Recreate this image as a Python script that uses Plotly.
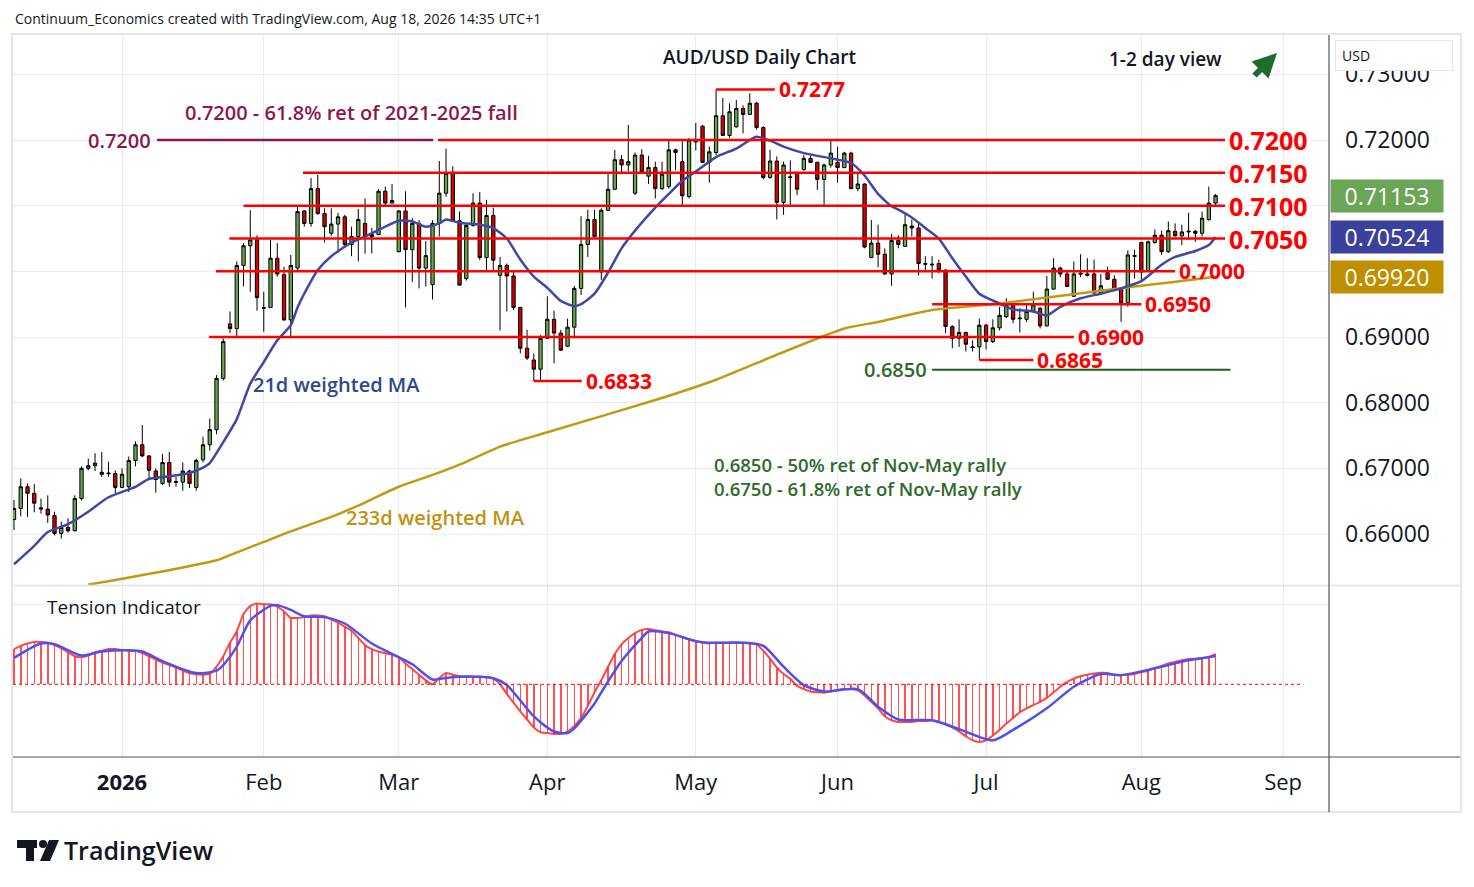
#!python3
# AUD/USD daily chart rebuilt with plotly: candles, weighted MAs,
# key levels and the tension indicator pane underneath

import pandas as pd
import plotly.graph_objects as go

# one bar per weekday, no Christmas / New Year bar
holidays = ["2025-12-25", "2026-01-01"]
all_days = pd.bdate_range("2025-12-09", "2026-09-30")
all_days = all_days[~all_days.isin(pd.to_datetime(holidays))]

opens = [0.6622, 0.6639, 0.6672, 0.6662, 0.6640, 0.6638, 0.6628, 0.6601, 0.6610, 0.6605,
         0.6654, 0.6700, 0.6704, 0.6694, 0.6693, 0.6692, 0.6671, 0.6672, 0.6712, 0.6736,
         0.6719, 0.6696, 0.6677, 0.6709, 0.6680, 0.6679, 0.6696, 0.6671, 0.6713, 0.6736,
         0.6759, 0.6837, 0.6920, 0.6913, 0.7009, 0.7039, 0.7048, 0.6945, 0.6945, 0.7020,
         0.6995, 0.6926, 0.7005, 0.7092, 0.7073, 0.7126, 0.7088, 0.7058, 0.7072, 0.7083,
         0.7041, 0.7053, 0.7073, 0.7053, 0.7056, 0.7122, 0.7104, 0.7030, 0.7092, 0.7033,
         0.7073, 0.7005, 0.6980, 0.7073, 0.7119, 0.7149, 0.7077, 0.6989, 0.7070, 0.7104,
         0.7021, 0.7085, 0.6994, 0.7009, 0.6993, 0.6945, 0.6883, 0.6865, 0.6851, 0.6898,
         0.6927, 0.6906, 0.6886, 0.6915, 0.6974, 0.7041, 0.7079, 0.6999, 0.7093, 0.7125,
         0.7170, 0.7162, 0.7119, 0.7177, 0.7145, 0.7158, 0.7126, 0.7129, 0.7185, 0.7167,
         0.7114, 0.7197, 0.7221, 0.7166, 0.7181, 0.7237, 0.7207, 0.7220, 0.7248, 0.7239,
         0.7256, 0.7219, 0.7143, 0.7168, 0.7105, 0.7144, 0.7150, 0.7155, 0.7172, 0.7166,
         0.7140, 0.7162, 0.7166, 0.7158, 0.7180, 0.7126, 0.7133, 0.7021, 0.7043, 0.7026,
         0.6996, 0.7047, 0.7038, 0.7069, 0.7066, 0.7012, 0.7011, 0.7012, 0.7002, 0.6916,
         0.6898, 0.6907, 0.6885, 0.6885, 0.6918, 0.6893, 0.6914, 0.6931, 0.6949, 0.6929,
         0.6927, 0.6939, 0.6944, 0.6917, 0.6973, 0.7005, 0.6996, 0.6962, 0.6997, 0.6996,
         0.6996, 0.6967, 0.6998, 0.6988, 0.6973, 0.6952, 0.7024, 0.7044, 0.7001, 0.7044,
         0.7055, 0.7030, 0.7061, 0.7054, 0.7060, 0.7061, 0.7058, 0.7079, 0.7104]
highs = [0.6652, 0.6685, 0.6677, 0.6676, 0.6654, 0.6659, 0.6634, 0.6619, 0.6624, 0.6659,
         0.6703, 0.6715, 0.6723, 0.6725, 0.6710, 0.6697, 0.6700, 0.6718, 0.6741, 0.6766,
         0.6720, 0.6700, 0.6722, 0.6725, 0.6687, 0.6709, 0.6698, 0.6715, 0.6748, 0.6776,
         0.6842, 0.6898, 0.6939, 0.7015, 0.7043, 0.7093, 0.7055, 0.6969, 0.7048, 0.7043,
         0.7007, 0.7025, 0.7098, 0.7093, 0.7142, 0.7147, 0.7096, 0.7096, 0.7089, 0.7086,
         0.7068, 0.7095, 0.7111, 0.7066, 0.7125, 0.7129, 0.7133, 0.7093, 0.7122, 0.7081,
         0.7078, 0.7046, 0.7078, 0.7168, 0.7187, 0.7160, 0.7091, 0.7073, 0.7119, 0.7121,
         0.7109, 0.7097, 0.7022, 0.7012, 0.7002, 0.6946, 0.6911, 0.6875, 0.6903, 0.6962,
         0.6940, 0.6911, 0.6928, 0.6978, 0.7084, 0.7094, 0.7094, 0.7096, 0.7149, 0.7185,
         0.7177, 0.7223, 0.7181, 0.7186, 0.7176, 0.7167, 0.7167, 0.7199, 0.7187, 0.7198,
         0.7203, 0.7226, 0.7223, 0.7190, 0.7277, 0.7264, 0.7256, 0.7261, 0.7253, 0.7271,
         0.7258, 0.7221, 0.7185, 0.7175, 0.7167, 0.7169, 0.7152, 0.7177, 0.7176, 0.7167,
         0.7164, 0.7199, 0.7190, 0.7182, 0.7182, 0.7149, 0.7134, 0.7078, 0.7071, 0.7035,
         0.7057, 0.7055, 0.7087, 0.7079, 0.7074, 0.7023, 0.7023, 0.7018, 0.7003, 0.6918,
         0.6927, 0.6908, 0.6895, 0.6928, 0.6920, 0.6927, 0.6946, 0.6959, 0.6951, 0.6944,
         0.6949, 0.6969, 0.6945, 0.6993, 0.7020, 0.7007, 0.6999, 0.7015, 0.7026, 0.7020,
         0.7018, 0.6996, 0.7007, 0.6994, 0.6974, 0.7032, 0.7033, 0.7045, 0.7047, 0.7064,
         0.7062, 0.7076, 0.7073, 0.7071, 0.7089, 0.7063, 0.7091, 0.7129, 0.7118]
lows = [0.6606, 0.6627, 0.6626, 0.6633, 0.6631, 0.6617, 0.6598, 0.6593, 0.6602, 0.6604,
        0.6651, 0.6697, 0.6696, 0.6687, 0.6687, 0.6662, 0.6670, 0.6664, 0.6703, 0.6717,
        0.6682, 0.6663, 0.6675, 0.6672, 0.6672, 0.6666, 0.6670, 0.6666, 0.6709, 0.6727,
        0.6752, 0.6834, 0.6906, 0.6901, 0.6977, 0.6969, 0.6940, 0.6908, 0.6944, 0.6992,
        0.6925, 0.6898, 0.7002, 0.7068, 0.7068, 0.7086, 0.7044, 0.7054, 0.7028, 0.7036,
        0.7023, 0.7015, 0.7027, 0.7027, 0.7055, 0.7101, 0.7103, 0.7029, 0.6945, 0.6984,
        0.6974, 0.6977, 0.6957, 0.7053, 0.7114, 0.7076, 0.6979, 0.6986, 0.7068, 0.7017,
        0.7002, 0.7002, 0.6910, 0.6939, 0.6941, 0.6875, 0.6865, 0.6833, 0.6834, 0.6897,
        0.6860, 0.6879, 0.6885, 0.6898, 0.6964, 0.7022, 0.7052, 0.6987, 0.7092, 0.7124,
        0.7150, 0.7152, 0.7116, 0.7150, 0.7133, 0.7111, 0.7124, 0.7126, 0.7154, 0.7100,
        0.7111, 0.7184, 0.7165, 0.7135, 0.7177, 0.7206, 0.7203, 0.7219, 0.7210, 0.7238,
        0.7216, 0.7140, 0.7141, 0.7079, 0.7086, 0.7100, 0.7116, 0.7153, 0.7165, 0.7124,
        0.7101, 0.7158, 0.7135, 0.7157, 0.7125, 0.7122, 0.7035, 0.7020, 0.7006, 0.6995,
        0.6978, 0.7035, 0.7037, 0.7053, 0.6994, 0.7002, 0.6989, 0.6997, 0.6906, 0.6883,
        0.6885, 0.6878, 0.6878, 0.6865, 0.6881, 0.6891, 0.6910, 0.6929, 0.6921, 0.6907,
        0.6923, 0.6937, 0.6913, 0.6916, 0.6972, 0.6991, 0.6976, 0.6961, 0.6991, 0.6992,
        0.6966, 0.6966, 0.6987, 0.6971, 0.6923, 0.6946, 0.6989, 0.6987, 0.6999, 0.7042,
        0.7025, 0.7028, 0.7053, 0.7040, 0.7048, 0.7045, 0.7053, 0.7077, 0.7098]
closes = [0.6639, 0.6672, 0.6662, 0.6647, 0.6638, 0.6629, 0.6601, 0.6610, 0.6605, 0.6654,
          0.6700, 0.6704, 0.6708, 0.6691, 0.6692, 0.6671, 0.6691, 0.6712, 0.6736, 0.6719,
          0.6697, 0.6683, 0.6709, 0.6679, 0.6679, 0.6696, 0.6677, 0.6712, 0.6736, 0.6759,
          0.6837, 0.6893, 0.6913, 0.7009, 0.7039, 0.7048, 0.6960, 0.6944, 0.7020, 0.6996,
          0.6926, 0.7009, 0.7091, 0.7073, 0.7126, 0.7088, 0.7068, 0.7072, 0.7083, 0.7041,
          0.7053, 0.7079, 0.7053, 0.7056, 0.7122, 0.7104, 0.7108, 0.7092, 0.7033, 0.7073,
          0.7005, 0.7024, 0.7073, 0.7119, 0.7149, 0.7077, 0.6979, 0.7070, 0.7104, 0.7021,
          0.7085, 0.7017, 0.7009, 0.6993, 0.6945, 0.6883, 0.6868, 0.6851, 0.6898, 0.6927,
          0.6906, 0.6880, 0.6915, 0.6974, 0.7041, 0.7079, 0.7053, 0.7093, 0.7125, 0.7170,
          0.7162, 0.7167, 0.7177, 0.7151, 0.7158, 0.7126, 0.7148, 0.7185, 0.7181, 0.7115,
          0.7200, 0.7199, 0.7166, 0.7182, 0.7237, 0.7207, 0.7243, 0.7248, 0.7239, 0.7256,
          0.7219, 0.7143, 0.7168, 0.7105, 0.7162, 0.7143, 0.7125, 0.7172, 0.7166, 0.7140,
          0.7162, 0.7180, 0.7158, 0.7180, 0.7126, 0.7133, 0.7037, 0.7043, 0.7026, 0.6996,
          0.7047, 0.7041, 0.7071, 0.7066, 0.7012, 0.7011, 0.7010, 0.7002, 0.6916, 0.6898,
          0.6907, 0.6889, 0.6884, 0.6918, 0.6893, 0.6914, 0.6933, 0.6949, 0.6927, 0.6928,
          0.6939, 0.6949, 0.6917, 0.6973, 0.7005, 0.6996, 0.6977, 0.6996, 0.6996, 0.6994,
          0.6967, 0.6978, 0.6988, 0.6972, 0.6952, 0.7025, 0.7023, 0.6999, 0.7045, 0.7055,
          0.7030, 0.7062, 0.7054, 0.7060, 0.7061, 0.7058, 0.7081, 0.7104, 0.71153]

# moving averages at these bar numbers
ma21_at = [0, 3, 5, 8, 11, 14, 18, 20, 23, 26, 28, 29, 31, 33, 35, 37, 39, 41, 42, 44,
           45, 47, 50, 52, 55, 57, 59, 61, 63, 64, 66, 69, 71, 73, 75, 77, 79, 81, 83, 84,
           86, 88, 90, 92, 95, 97, 99, 101, 104, 107, 110, 112, 114, 117, 121, 124, 126, 128, 130, 131,
           133, 135, 137, 139, 141, 143, 146, 148, 151, 153, 155, 158, 161, 164, 167, 170, 172, 175, 177, 178]
ma21 = [0.6554, 0.6582, 0.6603, 0.6615, 0.6634, 0.6656, 0.6672, 0.6684, 0.6688, 0.6693,
        0.6701, 0.6708, 0.6740, 0.6775, 0.6829, 0.6862, 0.6895, 0.6918, 0.6945, 0.6985,
        0.7002, 0.7023, 0.7044, 0.7053, 0.7068, 0.7077, 0.7076, 0.7068, 0.7073, 0.7079,
        0.7074, 0.7071, 0.7066, 0.7050, 0.7018, 0.6992, 0.6975, 0.6955, 0.6947, 0.6950,
        0.6966, 0.6998, 0.7035, 0.7062, 0.7097, 0.7118, 0.7138, 0.7152, 0.7174, 0.7187,
        0.7205, 0.7199, 0.7190, 0.7180, 0.7172, 0.7165, 0.7146, 0.7118, 0.7099, 0.7094,
        0.7082, 0.7066, 0.7050, 0.7020, 0.6992, 0.6966, 0.6951, 0.6942, 0.6939, 0.6933,
        0.6946, 0.6959, 0.6966, 0.6974, 0.6985, 0.7010, 0.7022, 0.7031, 0.7040, 0.70524]
ma233_at = [11, 15, 23, 30, 32, 37, 41, 47, 52, 57, 62, 67, 72, 79, 95, 104, 113, 123, 128,
            136, 146, 156, 166, 176, 178]
ma233 = [0.6523, 0.6530, 0.6545, 0.6560, 0.6568, 0.6588, 0.6604, 0.6626, 0.6648, 0.6672,
         0.6690, 0.6710, 0.6733, 0.6755, 0.6804, 0.6835, 0.6873, 0.6913, 0.6923, 0.6941,
         0.6951, 0.6964, 0.6977, 0.6989, 0.69920]

# tension indicator (one value per bar) and its smoothed signal line
tension = [0.44, 0.48, 0.51, 0.53, 0.53, 0.52, 0.49, 0.45, 0.40, 0.35,
           0.34, 0.36, 0.40, 0.42, 0.44, 0.44, 0.43, 0.42, 0.42, 0.39,
           0.35, 0.31, 0.27, 0.24, 0.21, 0.17, 0.14, 0.125, 0.12, 0.13,
           0.22, 0.35, 0.52, 0.66, 0.88, 0.98, 1.01, 1.00, 1.00, 0.97,
           0.91, 0.83, 0.83, 0.84, 0.86, 0.86, 0.85, 0.81, 0.77, 0.72,
           0.67, 0.58, 0.49, 0.44, 0.41, 0.39, 0.37, 0.34, 0.26, 0.19,
           0.12, 0.05, 0.00, 0.08, 0.14, 0.12, 0.10, 0.095, 0.095, 0.095,
           0.09, 0.07, 0.00, -0.12, -0.23, -0.34, -0.44, -0.54, -0.60, -0.61,
           -0.62, -0.62, -0.59, -0.52, -0.42, -0.27, -0.10, 0.05, 0.22, 0.38,
           0.50, 0.58, 0.64, 0.68, 0.69, 0.675, 0.66, 0.65, 0.62, 0.59,
           0.56, 0.54, 0.52, 0.51, 0.52, 0.52, 0.52, 0.52, 0.52, 0.51,
           0.50, 0.42, 0.32, 0.21, 0.13, 0.07, -0.02, -0.06, -0.09, -0.10,
           -0.105, -0.09, -0.07, -0.06, -0.06, -0.08, -0.14, -0.22, -0.30, -0.40,
           -0.45, -0.47, -0.47, -0.47, -0.46, -0.46, -0.45, -0.47, -0.50, -0.54,
           -0.59, -0.65, -0.70, -0.72, -0.70, -0.64, -0.57, -0.49, -0.42, -0.35,
           -0.30, -0.26, -0.22, -0.17, -0.10, -0.03, 0.03, 0.07, 0.10, 0.12,
           0.135, 0.145, 0.14, 0.12, 0.115, 0.12, 0.13, 0.15, 0.17, 0.20,
           0.23, 0.26, 0.28, 0.30, 0.315, 0.32, 0.325, 0.34, 0.38]
signal_at = [0, 4, 6, 10, 13, 17, 19, 22, 27, 30, 31, 33, 35, 38, 39, 41, 43, 46, 49, 53,
             56, 59, 62, 64, 66, 71, 73, 77, 80, 82, 83, 86, 87, 90, 93, 94, 97, 101, 103, 108,
             111, 114, 117, 120, 125, 128, 131, 136, 140, 145, 148, 153, 157, 161, 164, 169, 174, 178]
signal = [0.33, 0.51, 0.50, 0.36, 0.41, 0.425, 0.41, 0.29, 0.14, 0.17,
          0.24, 0.47, 0.80, 0.98, 0.99, 0.93, 0.85, 0.84, 0.76, 0.51,
          0.38, 0.25, 0.06, 0.08, 0.095, 0.075, -0.01, -0.40, -0.59, -0.61,
          -0.55, -0.24, -0.10, 0.29, 0.58, 0.66, 0.64, 0.54, 0.52, 0.52,
          0.48, 0.22, -0.01, -0.09, -0.06, -0.28, -0.44, -0.45, -0.56, -0.70,
          -0.57, -0.30, -0.03, 0.13, 0.115, 0.20, 0.30, 0.355]

# red key levels: value, label, first bar, last bar
key_levels = [0.7200, 0.7150, 0.7100, 0.7050, 0.7000, 0.6950, 0.6900, 0.6865, 0.6833, 0.7277]
level_labels = ["0.7200", "0.7150", "0.7100", "0.7050", "0.7000", "0.6950", "0.6900",
                "0.6865", "0.6833", "0.7277"]
level_from = [62.8, 42.8, 34, 31.9, 29.9, 136, 28.9, 143, 77, 104]
level_to = [179.4, 179.4, 179.4, 179.4, 172, 167, 157, 151, 84.1, 112.7]
retrace_level = 0.6850
fib_level = 0.7200

price_ticks = [0.66, 0.67, 0.68, 0.69, 0.70, 0.71, 0.72, 0.73]
hidden_ticks = [0.70, 0.71]   # covered by the last-value boxes

bars = list(range(len(closes)))

# the page puts the figure 8px in from the corner
OFF = 8
W, H = 1474 - 2 * OFF, 887 - 2 * OFF


def px(x):
    return (x - OFF) / W


def py(y):
    return 1 - (y - OFF) / H


FONT = "Open Sans"
INK = "#131722"
GRID = "#e6ecf2"
RED = "#ff0000"
MAROON = "#8c1750"
DKGREEN = "#2e6a2a"

# month ticks on the bar axis
month_pos, month_txt = [], []
for m in range(1, 10):
    idx = [i for i, d in enumerate(all_days) if d.year == 2026 and d.month == m]
    month_pos.append(idx[0])
    month_txt.append("<b>2026</b>" if m == 1 else all_days[idx[0]].strftime("%b"))

fig = go.Figure()

fig.add_trace(go.Candlestick(
    x=bars, open=opens, high=highs, low=lows, close=closes,
    increasing=dict(line=dict(color="#000000", width=1), fillcolor="#65a84e"),
    decreasing=dict(line=dict(color="#000000", width=1), fillcolor="#d50000"),
    whiskerwidth=0, showlegend=False, hoverinfo="skip", xaxis="x", yaxis="y"))

fig.add_trace(go.Scatter(x=ma233_at, y=ma233, mode="lines",
                         line=dict(color="#c29a10", width=2.5, shape="spline", smoothing=0.6),
                         xaxis="x", yaxis="y", hoverinfo="skip"))
fig.add_trace(go.Scatter(x=ma21_at, y=ma21, mode="lines",
                         line=dict(color="#3f48a6", width=2.5, shape="spline", smoothing=0.6),
                         xaxis="x", yaxis="y", hoverinfo="skip"))

# tension pane
fig.add_trace(go.Bar(x=bars, y=tension, width=0.22,
                     marker=dict(color="rgba(255,50,50,0.85)", line=dict(width=0)),
                     xaxis="x2", yaxis="y2", hoverinfo="skip"))
fig.add_trace(go.Scatter(x=bars, y=tension, mode="lines",
                         line=dict(color="rgba(255,50,50,0.9)", width=2, shape="spline", smoothing=0.5),
                         xaxis="x2", yaxis="y2", hoverinfo="skip"))
fig.add_trace(go.Scatter(x=signal_at, y=signal, mode="lines",
                         line=dict(color="#5050f0", width=2.5, shape="spline", smoothing=0.7),
                         xaxis="x2", yaxis="y2", hoverinfo="skip"))

shapes = []
ann = []

# key levels
for val, txt, a, b in zip(key_levels, level_labels, level_from, level_to):
    shapes.append(dict(type="line", xref="x", yref="y", x0=a, x1=b, y0=val, y1=val,
                       line=dict(color=RED, width=2.5)))
    big = b > 179
    ann.append(dict(xref="x", yref="y", x=b + 0.3, y=val, text=txt, showarrow=False,
                    xanchor="left", yanchor="middle",
                    font=dict(family=FONT, size=25 if big else 21, color=RED, weight="bold")))

# 61.8% retracement stub and green 0.6850 line
shapes.append(dict(type="line", xref="x", yref="y", x0=21.2, x1=62.1, y0=fib_level, y1=fib_level,
                   line=dict(color=MAROON, width=2.5)))
ann.append(dict(xref="x", yref="y", x=20.6, y=fib_level, text=f"{fib_level:.4f}", showarrow=False,
                xanchor="right", yanchor="middle",
                font=dict(family=FONT, size=20, color=MAROON, weight=600)))
shapes.append(dict(type="line", xref="x", yref="y", x0=136, x1=180.2, y0=retrace_level, y1=retrace_level,
                   line=dict(color="#1f5f22", width=2)))
ann.append(dict(xref="x", yref="y", x=135.6, y=retrace_level, text=f"{retrace_level:.4f}", showarrow=False,
                xanchor="right", yanchor="middle",
                font=dict(family=FONT, size=20, color=DKGREEN, weight=600)))

# zero line of the tension pane
shapes.append(dict(type="line", xref="x2", yref="y2", x0=-0.15, x1=191, y0=0, y1=0,
                   line=dict(color=RED, width=1, dash="dot")))

# frame, pane separator and axis lines
shapes.append(dict(type="rect", xref="paper", yref="paper", x0=px(12), x1=px(1461), y0=py(812), y1=py(34),
                   line=dict(color="#e3e6ec", width=2), layer="below"))
shapes.append(dict(type="line", xref="paper", yref="paper", x0=px(13), x1=px(1460), y0=py(585.5), y1=py(585.5),
                   line=dict(color="#dfe3ea", width=1.5)))
shapes.append(dict(type="line", xref="paper", yref="paper", x0=px(1329), x1=px(1329), y0=py(812), y1=py(35),
                   line=dict(color="#50535e", width=1.2)))
shapes.append(dict(type="line", xref="paper", yref="paper", x0=px(13), x1=px(1460), y0=py(757), y1=py(757),
                   line=dict(color="#50535e", width=1.2)))

# TradingView logo
shapes.append(dict(type="rect", xref="paper", yref="paper", x0=px(17), x1=px(37), y0=py(848), y1=py(840),
                   fillcolor=INK, line=dict(width=0)))
shapes.append(dict(type="rect", xref="paper", yref="paper", x0=px(26), x1=px(34), y0=py(861), y1=py(840),
                   fillcolor=INK, line=dict(width=0)))
shapes.append(dict(type="circle", xref="paper", yref="paper", x0=px(39), x1=px(47), y0=py(848), y1=py(840),
                   fillcolor=INK, line=dict(width=0)))
shapes.append(dict(type="path", xref="paper", yref="paper",
                   path=f"M {px(49)} {py(840)} L {px(59)} {py(840)} L {px(50)} {py(861)} L {px(40)} {py(861)} Z",
                   fillcolor=INK, line=dict(width=0)))


def text(x, y, s, size, color=INK, weight=None, xa="center"):
    f = dict(family=FONT, size=size, color=color)
    if weight:
        f["weight"] = weight
    return dict(xref="paper", yref="paper", x=px(x), y=py(y), text=s, showarrow=False,
                xanchor=xa, yanchor="middle", align="left", font=f)


ann += [
    text(62, 850, "TradingView", 25, weight=600, xa="left"),
    text(13, 19, "Continuum_Economics created with TradingView.com, Aug 18, 2026 14:35 UTC+1", 14, xa="left"),
    text(760, 57, "AUD/USD Daily Chart", 19, weight=600),
    text(1165, 59, "1-2 day view", 19, weight=600),
    text(351, 112, "0.7200 - 61.8% ret of 2021-2025 fall", 20, MAROON, 600),
    text(336, 385, "21d weighted MA", 20, "#2c4a8c", 600),
    text(435, 517, "233d weighted MA", 20, "#bf930f", 600),
    text(712, 476.5, "0.6850 - 50% ret of Nov-May rally<br>0.6750 - 61.8% ret of Nov-May rally",
         18.5, DKGREEN, 600, "left"),
    text(45, 607, "Tension Indicator", 19, xa="left"),
    dict(xref="paper", yref="paper", x=px(1277), y=py(53), ax=-24, ay=24, text="", showarrow=True,
         arrowhead=2, arrowsize=0.8, arrowwidth=6, arrowcolor="#1f6b2b"),
    dict(xref="paper", yref="paper", x=px(1335), y=py(40), xanchor="left", yanchor="top", showarrow=False,
         text="USD", align="left", width=104, height=17, bgcolor="#ffffff", bordercolor="#e3e6ec",
         borderwidth=1, borderpad=6, font=dict(family=FONT, size=14, color=INK)),
]

# last-value boxes on the price scale
for val, col in [(closes[-1], "#6aa655"), (ma21[-1], "#3a419c"), (ma233[-1], "#bf8f00")]:
    ann.append(dict(xref="paper", yref="y", x=px(1330), y=val, xanchor="left", yanchor="middle",
                    text=f"{val:.5f}", showarrow=False, width=110, height=30, bgcolor=col,
                    borderpad=1, font=dict(family=FONT, size=23, color="#ffffff")))

fig.update_layout(
    width=W, height=H, margin=dict(l=0, r=0, t=0, b=0),
    paper_bgcolor="#ffffff", plot_bgcolor="#ffffff", showlegend=False, bargap=0,
    shapes=shapes, annotations=ann,
    xaxis=dict(domain=[px(13), px(1329)], range=[-0.15, 194.8], anchor="y",
               tickvals=month_pos, showticklabels=False, showgrid=True, gridcolor=GRID,
               zeroline=False, rangeslider=dict(visible=False), fixedrange=True),
    xaxis2=dict(domain=[px(13), px(1329)], range=[-0.15, 194.8], anchor="y2", matches="x",
                tickvals=month_pos, ticktext=month_txt, showgrid=True, gridcolor=GRID,
                zeroline=False, ticks="", ticklabelstandoff=10,
                tickfont=dict(family=FONT, size=22, color=INK)),
    yaxis=dict(domain=[py(585), py(35)], range=[0.65224, 0.73599], anchor="x", side="right",
               tickvals=price_ticks,
               ticktext=["" if v in hidden_ticks else f"{v:.5f}" for v in price_ticks],
               showgrid=True, gridcolor=GRID, zeroline=False, ticks="", ticklabelstandoff=15,
               tickfont=dict(family=FONT, size=23, color=INK)),
    yaxis2=dict(domain=[py(757), py(586)], range=[-0.909, 1.229], anchor="x2", side="right",
                tickvals=[1.0], showticklabels=False, showgrid=True, gridcolor=GRID, zeroline=False),
)

fig.write_html("out.html")
